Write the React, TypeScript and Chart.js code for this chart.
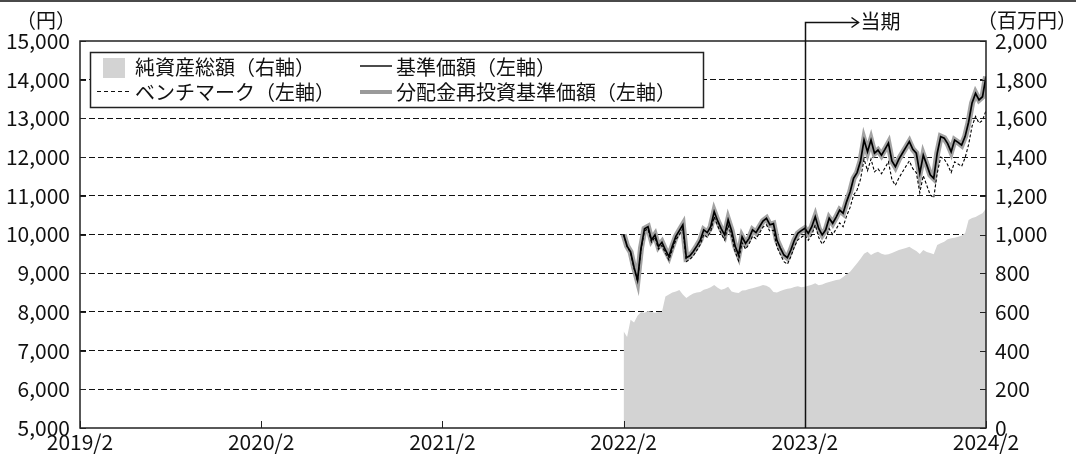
import React, { useEffect, useRef } from 'react';
import { Chart, registerables } from 'chart.js';

Chart.register(...registerables);

const FONT = '"Noto Sans CJK JP", "Noto Sans", sans-serif';

// x axis: months since 2019/2
const xTickLabels = ['2019/2', '2020/2', '2021/2', '2022/2', '2023/2', '2024/2'];
const xTickMonths = [0, 12, 24, 36, 48, 60];
const leftTicks = [5000, 6000, 7000, 8000, 9000, 10000, 11000, 12000, 13000, 14000, 15000];
const rightTicks = [0, 200, 400, 600, 800, 1000, 1200, 1400, 1600, 1800, 2000];
const periodStartMonth = 48; // 当期 (2023/2)
const dataStartMonth = 36; // 2022/2
const dataEndMonth = 60; // 2024/2

const legendLabels = ['純資産総額（右軸）', '基準価額（左軸）', 'ベンチマーク（左軸）', '分配金再投資基準価額（左軸）'];

// weekly values, 2022/2 .. 2024/2
const basePrice = [
  10000, 9700, 9550, 9150, 8820, 9650, 10150, 10200, 9860, 9990,
  9690, 9800, 9600, 9430, 9700, 9950, 10100, 10250, 9400, 9450,
  9560, 9700, 9850, 10120, 10050, 10200, 10590, 10350, 10150, 9990,
  10380, 10100, 9700, 9470, 9940, 9770, 9900, 10120, 10050, 10200,
  10350, 10420, 10250, 10280, 9850, 9650, 9470, 9400, 9600, 9850,
  10030, 10100, 10160, 10030, 10200, 10460, 10150, 9990, 10120, 10420,
  10290, 10450, 10630, 10550, 10850, 11100, 11450, 11600, 11900, 12440,
  12140, 12440, 12100, 12180, 12050, 12200, 12360, 11900, 11750, 11950,
  12100, 12250, 12400, 12200, 12100, 11580, 12050, 11800, 11540, 11450,
  12100, 12530, 12490, 12350, 12140, 12440, 12380, 12310, 12530, 12900,
  13400, 13650, 13480, 13560, 14080,
];

const reinvestPrice = [
  10000, 9700, 9550, 9150, 8820, 9650, 10150, 10200, 9860, 9990,
  9690, 9800, 9600, 9430, 9700, 9950, 10100, 10250, 9400, 9450,
  9560, 9700, 9850, 10120, 10050, 10200, 10590, 10350, 10150, 9990,
  10380, 10100, 9700, 9470, 9940, 9770, 9900, 10120, 10050, 10200,
  10350, 10420, 10250, 10280, 9850, 9650, 9470, 9400, 9600, 9850,
  10030, 10100, 10160, 10030, 10200, 10460, 10150, 9990, 10120, 10420,
  10290, 10450, 10630, 10550, 10850, 11100, 11450, 11600, 11900, 12440,
  12140, 12440, 12100, 12180, 12050, 12200, 12360, 11900, 11750, 11950,
  12100, 12250, 12400, 12200, 12100, 11580, 12050, 11800, 11540, 11450,
  12100, 12530, 12490, 12350, 12140, 12440, 12380, 12310, 12530, 12900,
  13400, 13650, 13480, 13560, 14080,
];

const benchmark = [
  10000, 9690, 9530, 9120, 8790, 9610, 10100, 10140, 9800, 9930,
  9620, 9720, 9520, 9340, 9610, 9860, 10000, 10150, 9300, 9350,
  9450, 9590, 9740, 10000, 9930, 10080, 10460, 10220, 10020, 9860,
  10240, 9960, 9560, 9320, 9790, 9620, 9750, 9960, 9890, 10040,
  10190, 10250, 10080, 10110, 9680, 9480, 9300, 9230, 9430, 9680,
  9860, 9930, 9990, 9850, 9990, 10250, 9920, 9750, 9870, 10150,
  10000, 10140, 10300, 10200, 10480, 10700, 11020, 11150, 11430, 11950,
  11650, 11950, 11620, 11700, 11570, 11720, 11880, 11420, 11270, 11460,
  11610, 11760, 11900, 11700, 11600, 11080, 11520, 11270, 11020, 10950,
  11580, 12000, 11950, 11800, 11600, 11880, 11820, 11760, 11980, 12320,
  12800, 13050, 12880, 12950, 13200,
];

const netAssets = [
  500, 470, 560, 545, 580, 600, 595, 605, 600, 595,
  600, 600, 680, 690, 700, 705, 713, 690, 672, 685,
  695, 700, 703, 715, 720, 728, 739, 725, 715, 720,
  730, 705, 700, 698, 710, 712, 718, 722, 728, 732,
  739, 735, 725, 703, 700, 708, 715, 720, 722, 729,
  732, 728, 730, 735, 740, 748, 738, 742, 750, 755,
  760, 765, 768, 780, 795, 808, 830, 851, 875, 900,
  911, 894, 905, 911, 900, 895, 898, 905, 912, 920,
  925, 930, 937, 925, 915, 899, 920, 910, 905, 898,
  946, 955, 962, 975, 980, 983, 989, 995, 1006, 1075,
  1085, 1090, 1101, 1110, 1135,
];

const toPoints = (vals: number[]) =>
  vals.map((v, i) => ({
    x: dataStartMonth + (i * (dataEndMonth - dataStartMonth)) / (vals.length - 1),
    y: v,
  }));

const fmt = (v: number) => v.toLocaleString('en-US');

const overlayPlugin = {
  id: 'overlay',
  afterDraw(chart: any) {
    const ctx = chart.ctx as CanvasRenderingContext2D;
    const { left, right, top, bottom } = chart.chartArea;
    const xs = chart.scales.x;
    const yl = chart.scales.y;
    const yr = chart.scales.y1;
    const line = (x1: number, y1: number, x2: number, y2: number) => {
      ctx.beginPath();
      ctx.moveTo(x1, y1);
      ctx.lineTo(x2, y2);
      ctx.stroke();
    };
    ctx.save();
    // top border of the image
    ctx.fillStyle = '#4a4a4a';
    ctx.fillRect(0, 0, chart.width, 2);

    // frame
    ctx.setLineDash([]);
    ctx.strokeStyle = '#222';
    ctx.lineWidth = 1.5;
    ctx.strokeRect(left, top, right - left, bottom - top);

    // inward ticks
    ctx.lineWidth = 1;
    leftTicks.forEach((v) => {
      const y = Math.round(yl.getPixelForValue(v)) + 0.5;
      line(left, y, left + 6, y);
    });
    rightTicks.forEach((v) => {
      const y = Math.round(yr.getPixelForValue(v)) + 0.5;
      line(right - 6, y, right, y);
    });
    xTickMonths.forEach((m) => {
      const x = Math.round(xs.getPixelForValue(m)) + 0.5;
      line(x, bottom, x, bottom - 7);
    });

    // 当期 marker
    const px = Math.round(xs.getPixelForValue(periodStartMonth)) + 0.5;
    ctx.lineWidth = 1.5;
    ctx.strokeStyle = '#111';
    ctx.beginPath();
    ctx.moveTo(px, bottom);
    ctx.lineTo(px, 22.5);
    ctx.lineTo(px + 53, 22.5);
    ctx.stroke();
    ctx.beginPath();
    ctx.moveTo(px + 46, 17.5);
    ctx.lineTo(px + 53, 22.5);
    ctx.lineTo(px + 46, 27.5);
    ctx.stroke();

    ctx.fillStyle = '#111';
    ctx.font = `20px ${FONT}`;
    ctx.textBaseline = 'middle';
    ctx.textAlign = 'left';
    ctx.fillText('当期', px + 55, 21);

    // units
    ctx.fillText('（円）', 16, 20);
    ctx.fillText('（百万円）', 977, 20);

    // legend
    const bx = 90.5, by = 52.5, bw = 613, bh = 55;
    ctx.fillStyle = '#fff';
    ctx.fillRect(bx, by, bw, bh);
    ctx.strokeStyle = '#222';
    ctx.lineWidth = 1.5;
    ctx.strokeRect(bx, by, bw, bh);

    const r1 = 67, r2 = 92;
    ctx.fillStyle = '#d3d3d3';
    ctx.fillRect(103, 58, 22, 20);

    ctx.strokeStyle = '#111';
    ctx.lineWidth = 1;
    ctx.setLineDash([4, 3]);
    line(97, r2 - 0.5, 132, r2 - 0.5);
    ctx.setLineDash([]);

    ctx.lineWidth = 1.5;
    line(360, r1 - 1, 392, r1 - 1);
    ctx.strokeStyle = '#9a9a9a';
    ctx.lineWidth = 4;
    line(360, r2, 392, r2);

    ctx.fillStyle = '#111';
    ctx.font = `20px ${FONT}`;
    ctx.fillText(legendLabels[0], 135, r1);
    ctx.fillText(legendLabels[1], 396, r1);
    ctx.fillText(legendLabels[2], 135, r2);
    ctx.fillText(legendLabels[3], 396, r2);
    ctx.restore();
  },
};

export default function App() {
  const ref = useRef<HTMLCanvasElement | null>(null);

  useEffect(() => {
    document.body.style.margin = '0';
    const canvas = ref.current;
    if (!canvas) return;
    Chart.defaults.font.family = FONT;
    const chart = new Chart(canvas, {
      type: 'line',
      data: {
        datasets: [
          {
            label: legendLabels[1],
            data: toPoints(basePrice),
            yAxisID: 'y',
            borderColor: '#000',
            borderWidth: 1.7,
            pointRadius: 0,
            tension: 0,
            fill: false,
            order: 1,
          },
          {
            label: legendLabels[2],
            data: toPoints(benchmark),
            yAxisID: 'y',
            borderColor: '#000',
            borderWidth: 1.1,
            borderDash: [3, 2],
            pointRadius: 0,
            tension: 0,
            fill: false,
            order: 2,
          },
          {
            label: legendLabels[3],
            data: toPoints(reinvestPrice),
            yAxisID: 'y',
            borderColor: '#a3a3a3',
            borderWidth: 6,
            pointRadius: 0,
            tension: 0,
            fill: false,
            order: 3,
          },
          {
            label: legendLabels[0],
            data: toPoints(netAssets),
            yAxisID: 'y1',
            borderWidth: 0,
            borderColor: 'rgba(0,0,0,0)',
            backgroundColor: '#d3d3d3',
            pointRadius: 0,
            tension: 0,
            fill: 'origin',
            order: 4,
          },
        ],
      },
      options: {
        animation: false,
        responsive: true,
        maintainAspectRatio: false,
        layout: { padding: { top: 41, left: 0, right: 0, bottom: 0 } },
        plugins: {
          legend: { display: false },
          tooltip: { enabled: false },
        },
        scales: {
          x: {
            type: 'linear',
            min: 0,
            max: 60,
            afterFit: (s: any) => {
              s.height = 27;
            },
            afterBuildTicks: (s: any) => {
              s.ticks = xTickMonths.map((v) => ({ value: v }));
            },
            grid: { display: false, drawTicks: false },
            border: { display: false },
            ticks: {
              autoSkip: false,
              maxRotation: 0,
              padding: 1,
              color: '#111',
              font: { size: 21, family: FONT },
              callback: (v: any) => xTickLabels[xTickMonths.indexOf(Number(v))] ?? '',
            },
          },
          y: {
            position: 'left',
            min: 5000,
            max: 15000,
            afterFit: (s: any) => {
              s.width = 80;
            },
            afterBuildTicks: (s: any) => {
              s.ticks = leftTicks.map((v) => ({ value: v }));
            },
            grid: {
              color: (c: any) =>
                c.tick && (c.tick.value === 5000 || c.tick.value === 15000) ? 'rgba(0,0,0,0)' : '#111',
              lineWidth: 1,
              drawTicks: false,
            },
            border: { display: false, dash: [6, 3] },
            ticks: {
              padding: 10,
              color: '#111',
              font: { size: 21, family: FONT },
              callback: (v: any) => fmt(Number(v)),
            },
          },
          y1: {
            position: 'right',
            min: 0,
            max: 2000,
            afterFit: (s: any) => {
              s.width = 90;
            },
            afterBuildTicks: (s: any) => {
              s.ticks = rightTicks.map((v) => ({ value: v }));
            },
            grid: { display: false, drawTicks: false },
            border: { display: false },
            ticks: {
              padding: 9,
              color: '#111',
              font: { size: 21, family: FONT },
              callback: (v: any) => fmt(Number(v)),
            },
          },
        },
      },
      plugins: [overlayPlugin],
    });
    return () => chart.destroy();
  }, []);

  return (
    <div style={{ position: 'relative', width: 1076, height: 455 }}>
      <canvas ref={ref} />
    </div>
  );
}
